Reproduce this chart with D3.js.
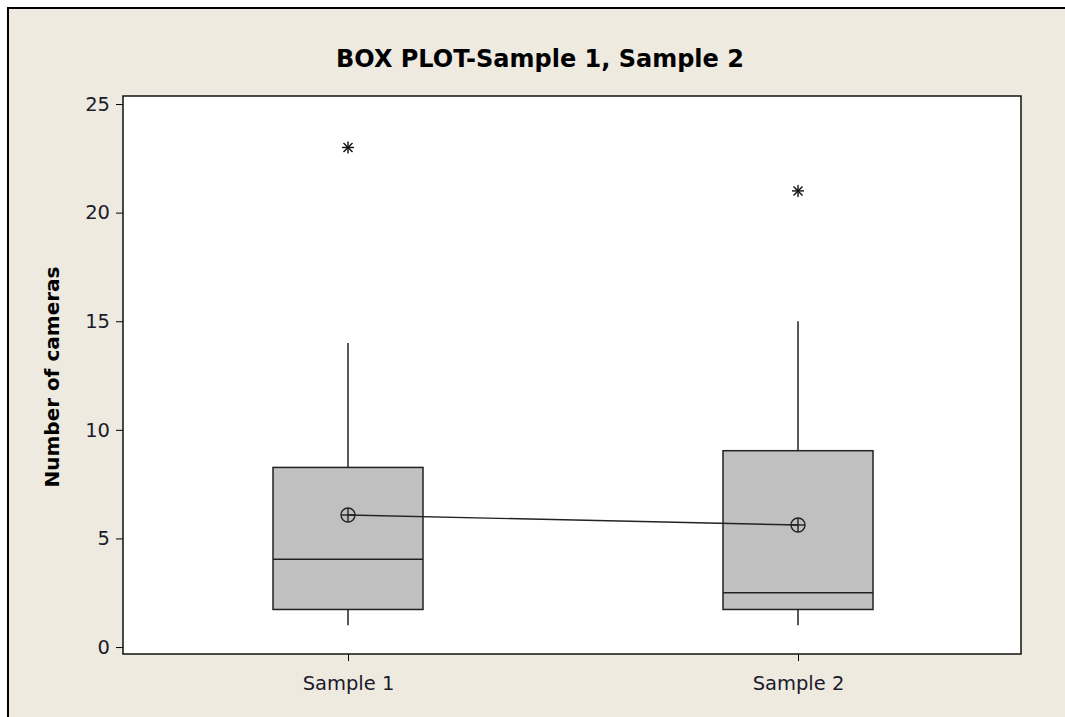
<!DOCTYPE html>
<html><head><meta charset="utf-8">
<script src="https://cdn.jsdelivr.net/npm/d3@7"></script>
<style>body{margin:0;background:#fff;}svg{display:block;}</style>
</head><body><svg id="c" width="1065" height="717"></svg>
<script>
const categories = ["Sample 1", "Sample 2"];
const q1 = [1.73, 1.73];
const median = [4.04, 2.5];
const q3 = [8.27, 9.04];
const whiskerLow = [1, 1];
const whiskerHigh = [14, 15];
const means = [6.08, 5.62];
const outliers = [[23], [21]];
const yTicks = [0, 5, 10, 15, 20, 25];

const svg = d3.select("#c");
const W = 1065, H = 717;
const plot = {left: 123, top: 96, right: 1021, bottom: 654};

svg.append("rect").attr("x", 8).attr("y", 8).attr("width", W + 10).attr("height", H + 10)
  .attr("fill", "#EEEAE0").attr("stroke", "#000").attr("stroke-width", 2);
svg.append("rect").attr("x", plot.left).attr("y", plot.top)
  .attr("width", plot.right - plot.left).attr("height", plot.bottom - plot.top)
  .attr("fill", "#fff");

const y = d3.scaleLinear().domain([-0.32, 25.37]).range([plot.bottom, plot.top]);
const x = d3.scalePoint().domain(categories).range([348, 798]);
const boxW = 150;

const font = "Tahoma, 'DejaVu Sans', sans-serif";

// axes
const yAxis = svg.append("g").attr("transform", `translate(${plot.left},0)`)
  .call(d3.axisLeft(y).tickValues(yTicks).tickSize(7).tickSizeOuter(0));
yAxis.select(".domain").remove();
yAxis.selectAll("line").attr("stroke", "#000");
yAxis.selectAll("text").attr("font-family", font).attr("font-size", 19.5).attr("fill", "#1a1a2a").attr("x", -13);

const xAxis = svg.append("g").attr("transform", `translate(0,${plot.bottom})`)
  .call(d3.axisBottom(x).tickSize(7).tickSizeOuter(0));
xAxis.select(".domain").remove();
xAxis.selectAll("line").attr("stroke", "#000");
xAxis.selectAll("text").attr("font-family", font).attr("font-size", 19.5).attr("fill", "#1a1a2a")
  .attr("y", 36).attr("dy", 0);

// boxes
const data = categories.map((c, i) => ({c, i}));
const g = svg.append("g");
data.forEach(({c, i}) => {
  const cx = x(c);
  g.append("line").attr("x1", cx).attr("x2", cx).attr("y1", y(q3[i])).attr("y2", y(whiskerHigh[i]))
    .attr("stroke", "#222").attr("stroke-width", 1.5);
  g.append("line").attr("x1", cx).attr("x2", cx).attr("y1", y(q1[i])).attr("y2", y(whiskerLow[i]))
    .attr("stroke", "#222").attr("stroke-width", 1.5);
  g.append("rect").attr("x", cx - boxW / 2).attr("y", y(q3[i])).attr("width", boxW)
    .attr("height", y(q1[i]) - y(q3[i])).attr("fill", "#C0C0C0").attr("stroke", "#222").attr("stroke-width", 1.5);
  g.append("line").attr("x1", cx - boxW / 2).attr("x2", cx + boxW / 2).attr("y1", y(median[i])).attr("y2", y(median[i]))
    .attr("stroke", "#222").attr("stroke-width", 1.5);
  outliers[i].forEach(v => {
    const oy = y(v), r = 6;
    const og = g.append("g").attr("stroke", "#111").attr("stroke-width", 1.4);
    og.append("line").attr("x1", cx - r).attr("x2", cx + r).attr("y1", oy).attr("y2", oy);
    og.append("line").attr("x1", cx).attr("x2", cx).attr("y1", oy - r).attr("y2", oy + r);
    og.append("line").attr("x1", cx - r * 0.75).attr("x2", cx + r * 0.75).attr("y1", oy - r * 0.75).attr("y2", oy + r * 0.75);
    og.append("line").attr("x1", cx - r * 0.75).attr("x2", cx + r * 0.75).attr("y1", oy + r * 0.75).attr("y2", oy - r * 0.75);
  });
});

// mean connect line
const line = d3.line().x(d => x(d.c)).y(d => y(means[d.i]));
g.append("path").attr("d", line(data)).attr("fill", "none").attr("stroke", "#222").attr("stroke-width", 1.4);
data.forEach(({c, i}) => {
  const cx = x(c), cy = y(means[i]), r = 7;
  const mg = g.append("g").attr("stroke", "#222").attr("stroke-width", 1.4);
  mg.append("circle").attr("cx", cx).attr("cy", cy).attr("r", r).attr("fill", "none");
  mg.append("line").attr("x1", cx - r).attr("x2", cx + r).attr("y1", cy).attr("y2", cy);
  mg.append("line").attr("x1", cx).attr("x2", cx).attr("y1", cy - r).attr("y2", cy + r);
});

// plot frame
svg.append("rect").attr("x", plot.left).attr("y", plot.top)
  .attr("width", plot.right - plot.left).attr("height", plot.bottom - plot.top)
  .attr("fill", "none").attr("stroke", "#111").attr("stroke-width", 1.5);

// title
svg.append("text").attr("x", 540).attr("y", 67).attr("text-anchor", "middle")
  .attr("font-family", font).attr("font-weight", "bold").attr("font-size", 24).attr("fill", "#000")
  .text("BOX PLOT-Sample 1, Sample 2");

svg.append("text").attr("transform", "translate(59,377) rotate(-90)").attr("text-anchor", "middle")
  .attr("font-family", font).attr("font-weight", "bold").attr("font-size", 20).attr("fill", "#000")
  .text("Number of cameras");
</script></body></html>
